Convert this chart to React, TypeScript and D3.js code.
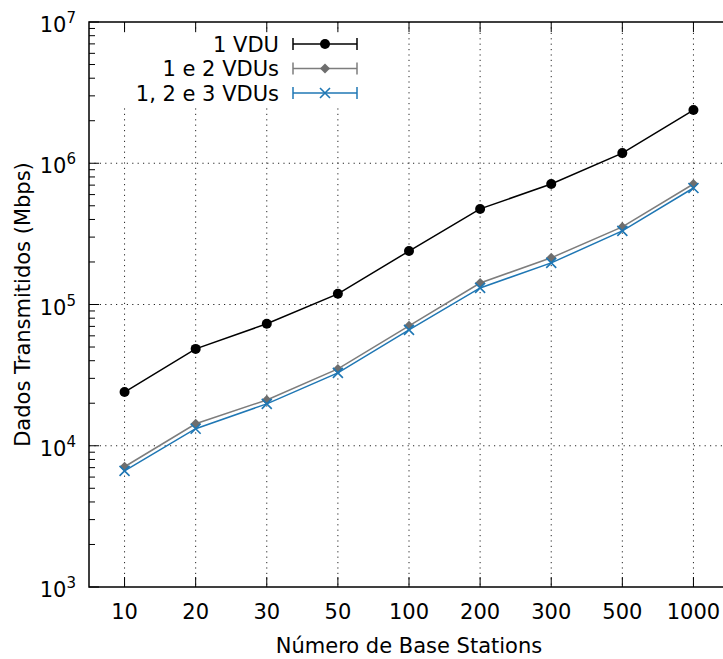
import React from "react";
import * as d3 from "d3";

const categories = ["10", "20", "30", "50", "100", "200", "300", "500", "1000"];
const seriesNames = ["1 VDU", "1 e 2 VDUs", "1, 2 e 3 VDUs"];
const vdu1 = [24000, 48500, 73000, 119000, 239000, 475000, 713000, 1180000, 2380000];
const vdu12 = [7100, 14300, 21100, 35000, 70600, 142000, 214000, 354000, 713000];
const vdu123 = [6640, 13200, 19800, 32800, 66100, 131000, 197000, 332000, 668000];
const yTickExps = [3, 4, 5, 6, 7];

const W = 723, H = 659;
const L = 89, R = 729, T = 22, B = 587;
const FONT = "DejaVu Sans";

const colors = ["#000000", "#6e6e6e", "#1f77b4"];
const lineColors = ["#000000", "#7d7d7d", "#1f77b4"];
const seriesData = [vdu1, vdu12, vdu123];

function Marker({ kind, x, y, color }: { kind: number; x: number; y: number; color: string }) {
  if (kind === 0) return <circle cx={x} cy={y} r={5} fill={color} />;
  if (kind === 1) {
    const s = 5;
    return <path d={`M${x},${y - s}L${x + s},${y}L${x},${y + s}L${x - s},${y}Z`} fill={color} />;
  }
  const s = 5;
  return (
    <path
      d={`M${x - s},${y - s}L${x + s},${y + s}M${x - s},${y + s}L${x + s},${y - s}`}
      stroke={color}
      strokeWidth={1.6}
      fill="none"
    />
  );
}

export default function App() {
  const x = d3.scalePoint<string>().domain(categories).range([L, R]).padding(0.5);
  const y = d3.scaleLog().domain([1e3, 1e7]).range([B, T]);

  const minor: number[] = [];
  for (let e = 3; e < 7; e++) for (let m = 2; m <= 9; m++) minor.push(m * Math.pow(10, e));

  const line = d3
    .line<number>()
    .x((_, i) => x(categories[i]) as number)
    .y((d) => y(d));

  const legendRows = [44, 68.5, 93];

  return (
    <svg width={W} height={H} style={{ position: "absolute", left: 0, top: 0 }} fontFamily={FONT}>
      <rect x={0} y={0} width={W} height={H} fill="#fff" />
      {/* grid */}
      <g stroke="#000" strokeWidth={1} strokeDasharray="1.2,4.2" opacity={0.85}>
        {categories.map((c) => (
          <line key={c} x1={x(c)} x2={x(c)} y1={T} y2={B} />
        ))}
        {yTickExps.slice(1, -1).map((e) => (
          <line key={e} x1={L} x2={R} y1={y(Math.pow(10, e))} y2={y(Math.pow(10, e))} />
        ))}
      </g>
      {/* ticks */}
      <g stroke="#000" strokeWidth={1}>
        {categories.map((c) => (
          <g key={c}>
            <line x1={x(c)} x2={x(c)} y1={B} y2={B - 10} />
            <line x1={x(c)} x2={x(c)} y1={T} y2={T + 10} />
          </g>
        ))}
        {yTickExps.map((e) => (
          <line key={e} x1={L} x2={L + 10} y1={y(Math.pow(10, e))} y2={y(Math.pow(10, e))} />
        ))}
        {minor.map((v) => (
          <line key={v} x1={L} x2={L + 6} y1={y(v)} y2={y(v)} />
        ))}
      </g>
      {/* series */}
      {seriesData.map((d, k) => (
        <g key={k}>
          <path d={line(d) || ""} fill="none" stroke={lineColors[k]} strokeWidth={1.5} />
          {d.map((v, i) => (
            <Marker key={i} kind={k} x={x(categories[i]) as number} y={y(v)} color={colors[k]} />
          ))}
        </g>
      ))}
      {/* legend */}
      <rect x={100} y={33} width={262} height={72} fill="#fff" />
      {seriesNames.map((n, k) => {
        const ry = legendRows[k];
        return (
          <g key={n}>
            <text x={279} y={ry + 7.5} textAnchor="end" fontSize={21} fill="#000">
              {n}
            </text>
            <g stroke={lineColors[k]} strokeWidth={1.5}>
              <line x1={293} x2={357} y1={ry} y2={ry} />
              <line x1={293} x2={293} y1={ry - 6} y2={ry + 6} />
              <line x1={357} x2={357} y1={ry - 6} y2={ry + 6} />
            </g>
            <Marker kind={k} x={325} y={ry} color={colors[k]} />
          </g>
        );
      })}
      {/* border */}
      <rect x={L} y={T} width={R - L} height={B - T} fill="none" stroke="#000" strokeWidth={1.5} />
      {/* y labels */}
      {yTickExps.map((e) => {
        const ty = y(Math.pow(10, e));
        return (
          <text key={e} x={76} y={ty + 10} textAnchor="end" fontSize={21} fill="#000">
            10
            <tspan fontSize={15} dy={-9}>
              {e}
            </tspan>
          </text>
        );
      })}
      {/* x labels */}
      {categories.map((c) => (
        <text key={c} x={x(c)} y={619} textAnchor="middle" fontSize={21} fill="#000">
          {c}
        </text>
      ))}
      <text x={(L + R) / 2} y={653} textAnchor="middle" fontSize={21} fill="#000">
        Número de Base Stations
      </text>
      <text
        transform={`translate(29.5,${(T + B) / 2}) rotate(-90)`}
        textAnchor="middle"
        fontSize={21}
        fill="#000"
      >
        Dados Transmitidos (Mbps)
      </text>
    </svg>
  );
}
